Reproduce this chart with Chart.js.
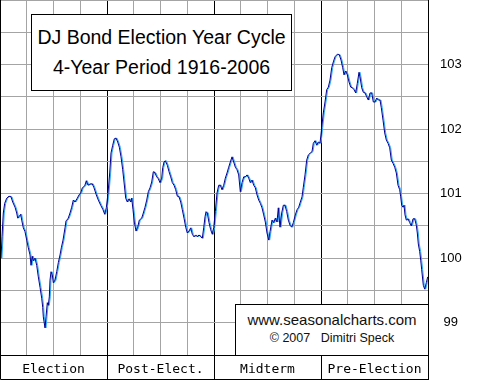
<!DOCTYPE html>
<html>
<head>
<meta charset="utf-8">
<script src="https://cdn.jsdelivr.net/npm/chart.js@4"></script>
<style>
    body { margin: 0; background: #fff; }
    #wrap { position: relative; width: 480px; height: 380px; }
    canvas { position: absolute; left: 0; top: 0; }
    .titleBox {
        position: absolute; left: 31px; top: 14px; width: 261px; height: 77px;
        box-sizing: border-box; border: 1px solid #000; background: #fff;
        font-family: "Liberation Sans", Arial, sans-serif; font-size: 19.5px;
        line-height: 30px; text-align: center; padding-top: 7px; color: #000;
    }
    .creditBox {
        position: absolute; left: 235px; top: 304px; width: 194px; height: 52px;
        box-sizing: border-box; border: 1px solid #000; background: #fff;
        font-family: "Liberation Sans", Arial, sans-serif; text-align: center;
        padding-top: 6px; color: #111;
    }
    .creditBox .site { font-size: 15px; line-height: 18px; }
    .creditBox .author { font-size: 12.5px; line-height: 18px; }
</style>
</head>
<body>
<div id="wrap">
    <canvas id="cycleChart" width="480" height="380"></canvas>
    <div class="titleBox">DJ Bond Election Year Cycle<br>4-Year Period 1916-2006</div>
    <div class="creditBox">
        <div class="site">www.seasonalcharts.com</div>
        <div class="author">©&nbsp;2007&nbsp;&nbsp;&nbsp;Dimitri Speck</div>
    </div>
</div>
<script>
// position inside the 4-year cycle (0 = start of election year, 428 = end of pre-election year)
const cycleDay = [
    1, 2, 3.3, 4.7, 6.7, 9, 11, 12.7, 15, 16.7,
    17.7, 19.3, 20.7, 21.7, 23.3, 25, 26.7, 28.3, 30, 31,
    32.3, 33.3, 35, 36.7, 38.3, 40, 41.7, 42.7, 43.3, 45,
    46, 47.3, 48.3, 49.3, 50, 51, 52.3, 53.3, 55, 56.7,
    58.3, 60, 61.3, 63, 65, 66, 68, 70, 71.7, 73.3,
    75, 77.3, 79, 80.7, 82.3, 84.7, 86.3, 88, 90, 92.3,
    94, 96.3, 98.3, 100.7, 103, 104.7, 106.3, 108, 109.7, 111,
    112.7, 114.3, 116, 117.7, 119.3, 121, 122.7, 124, 125.7, 127.3,
    129, 130.7, 131.7, 133, 134.3, 136, 137.7, 139.3, 141.7, 143.3,
    145, 146.7, 148.3, 150, 151.7, 153.3, 155, 156.7, 158.3, 160,
    161.7, 162.7, 164, 165.3, 167.3, 169, 170.7, 172.3, 174, 175.7,
    177.3, 179, 180.7, 182.3, 184, 185.7, 187.3, 189, 190.7, 192.3,
    194, 195.7, 197.3, 199, 200.7, 202.3, 203.7, 205, 206, 207.3,
    209, 210.7, 212.3, 213.7, 215.3, 217, 218.7, 220.3, 222, 223.7,
    225.3, 227, 228.7, 230.3, 232, 233.7, 235.3, 237, 238.7, 240.3,
    242, 243.7, 245.3, 247, 248.7, 250.3, 252, 253.7, 255.3, 257,
    258.7, 260.3, 262, 263.7, 265.3, 267, 268.7, 270, 272, 273.7,
    275.3, 277, 278.3, 280, 281.7, 283.3, 285, 286.7, 288.3, 290,
    291.7, 293.3, 295.3, 297, 298.7, 300.3, 302, 303.3, 305, 306.7,
    308.3, 310.3, 312, 313.3, 315, 316.7, 318.3, 320, 321.7, 323.3,
    325, 326.7, 328.3, 330, 331.7, 333.3, 335, 337.3, 339.3, 341,
    342.7, 344, 345.7, 347.3, 349, 350.7, 352.3, 354, 355.7, 357.3,
    359, 360, 361.7, 363.3, 365, 366.7, 368.3, 370, 371.7, 373.3,
    375, 376.7, 378.3, 380, 381.3, 383, 384.7, 386.3, 388, 389.7,
    391.3, 393, 394.7, 396.3, 398, 399.7, 400.7, 401.7, 403, 404,
    405, 406.3, 408, 409.7, 411.3, 413, 414.7, 416.3, 417.3, 418.3,
    419.7, 420.7, 421.7, 423.3, 424.7, 426.3, 427.7
];

// seasonal index value
const bondIndex = [
    100.00, 100.33, 100.70, 100.85, 100.93, 100.96, 100.95, 100.87, 100.79, 100.70,
    100.62, 100.65, 100.68, 100.59, 100.47, 100.41, 100.28, 100.16, 100.05, 99.89,
    100.03, 99.96, 100.00, 99.89, 99.71, 99.55, 99.38, 99.24, 99.09, 98.92,
    99.09, 99.31, 99.27, 99.40, 99.66, 99.79, 99.74, 99.62, 99.66, 99.79,
    99.93, 100.05, 100.16, 100.28, 100.47, 100.58, 100.61, 100.70, 100.79, 100.90,
    100.87, 100.93, 100.98, 101.01, 101.09, 101.12, 101.20, 101.13, 101.15, 101.15,
    101.09, 100.98, 100.90, 100.82, 100.75, 100.68, 100.78, 101.01, 101.32, 101.63,
    101.75, 101.85, 101.86, 101.80, 101.72, 101.57, 101.37, 101.18, 100.93, 100.87,
    100.92, 100.87, 100.93, 100.75, 100.56, 100.42, 100.48, 100.59, 100.62, 100.70,
    100.79, 100.90, 101.03, 101.09, 101.18, 101.34, 101.32, 101.26, 101.23, 101.17,
    101.24, 101.40, 101.49, 101.51, 101.44, 101.34, 101.26, 101.17, 101.13, 101.06,
    100.96, 100.95, 100.87, 100.75, 100.62, 100.48, 100.39, 100.42, 100.47, 100.37,
    100.33, 100.36, 100.33, 100.36, 100.33, 100.31, 100.47, 100.64, 100.72, 100.70,
    100.55, 100.44, 100.37, 100.47, 100.72, 101.01, 101.13, 101.13, 101.06, 101.13,
    101.24, 101.32, 101.41, 101.49, 101.57, 101.49, 101.41, 101.37, 101.29, 101.03,
    101.17, 101.26, 101.26, 101.29, 101.24, 101.17, 101.21, 101.13, 101.09, 100.98,
    100.90, 100.85, 100.78, 100.67, 100.56, 100.39, 100.28, 100.41, 100.59, 100.55,
    100.62, 100.56, 100.78, 100.48, 100.70, 100.82, 100.82, 100.72, 100.59, 100.51,
    100.48, 100.55, 100.67, 100.75, 100.79, 100.87, 100.95, 101.10, 101.29, 101.52,
    101.60, 101.63, 101.65, 101.78, 101.82, 101.75, 101.80, 101.78, 102.02, 102.25,
    102.42, 102.61, 102.65, 102.76, 102.95, 103.04, 103.12, 103.16, 103.15, 103.07,
    102.95, 102.84, 102.90, 102.84, 102.73, 102.65, 102.64, 102.61, 102.56, 102.71,
    102.88, 102.81, 102.64, 102.57, 102.56, 102.50, 102.45, 102.56, 102.56, 102.42,
    102.42, 102.48, 102.45, 102.45, 102.33, 102.14, 101.94, 101.83, 101.78, 101.71,
    101.52, 101.47, 101.41, 101.32, 101.13, 101.06, 100.95, 100.82, 100.79, 100.82,
    100.67, 100.59, 100.61, 100.55, 100.50, 100.61, 100.61, 100.51, 100.39, 100.22,
    100.10, 99.97, 99.82, 99.58, 99.52, 99.62, 99.71
];

const sectionLabels = ['Election', 'Post-Elect.', 'Midterm', 'Pre-Election'];
const cycleLength = 428;
const gridGrey = '#a4a4a4';

// dark line with a light blue edge like the original
const lineEdge = {
    id: 'lineEdge',
    beforeDatasetDraw(chart) {
        const ctx = chart.ctx;
        ctx.save();
        ctx.shadowColor = '#2fa8ff';
        ctx.shadowOffsetX = 1;
        ctx.shadowOffsetY = 0;
        ctx.shadowBlur = 0;
    },
    afterDatasetDraw(chart) {
        chart.ctx.restore();
    }
};

// outer frame lines
const frame = {
    id: 'frame',
    afterDraw(chart) {
        const ctx = chart.ctx;
        const a = chart.chartArea;
        ctx.save();
        ctx.strokeStyle = '#000';
        ctx.lineWidth = 1;
        ctx.beginPath();
        ctx.moveTo(0.5, 0);
        ctx.lineTo(0.5, chart.height - 0.5);
        ctx.lineTo(a.right + 0.5, chart.height - 0.5);
        ctx.moveTo(a.right + 0.5, 0);
        ctx.lineTo(a.right + 0.5, chart.height);
        ctx.stroke();
        ctx.restore();
    }
};

const chart = new Chart(document.getElementById('cycleChart'), {
    type: 'line',
    data: {
        datasets: [{
            data: cycleDay.map((d, i) => ({ x: d, y: bondIndex[i] })),
            borderColor: '#000090',
            borderWidth: 1,
            pointRadius: 0,
            tension: 0,
            fill: false
        }]
    },
    options: {
        responsive: false,
        animation: false,
        layout: { padding: 0 },
        plugins: {
            legend: { display: false },
            tooltip: { enabled: false }
        },
        scales: {
            x: {
                type: 'linear',
                min: 0,
                max: cycleLength,
                afterBuildTicks: (scale) => {
                    scale.ticks = Array.from({ length: 33 }, (_, i) => ({ value: i * cycleLength / 32 }));
                },
                afterFit: (scale) => {
                    scale.height = 25;
                    scale.paddingLeft = 0;
                    scale.paddingRight = 0;
                },
                grid: {
                    color: (c) => c.index % 8 === 0 ? '#000' : (c.index % 2 === 0 ? gridGrey : 'transparent'),
                    tickColor: (c) => c.index % 8 === 0 ? '#000' : 'transparent',
                    tickLength: 24,
                    lineWidth: 1
                },
                border: { color: '#000', width: 1 },
                ticks: {
                    autoSkip: false,
                    maxRotation: 0,
                    minRotation: 0,
                    padding: -17,
                    color: '#000',
                    font: { family: 'DejaVu Sans Mono', size: 13 },
                    callback: (value, index) => index % 8 === 4 ? sectionLabels[(index - 4) / 8] : ''
                }
            },
            y: {
                type: 'linear',
                position: 'right',
                min: 98.5,
                max: 104,
                afterFit: (scale) => {
                    scale.width = 52;
                    scale.paddingTop = 0;
                    scale.paddingBottom = 0;
                },
                grid: { color: gridGrey, drawTicks: false },
                border: { color: '#000', width: 1 },
                ticks: {
                    stepSize: 0.5,
                    crossAlign: 'center',
                    padding: 12,
                    color: '#000',
                    font: { family: 'Liberation Sans', size: 13 },
                    callback: (v) => Number.isInteger(v) && v < 104 ? v : ''
                }
            }
        }
    },
    plugins: [lineEdge, frame]
});
</script>
</body>
</html>
